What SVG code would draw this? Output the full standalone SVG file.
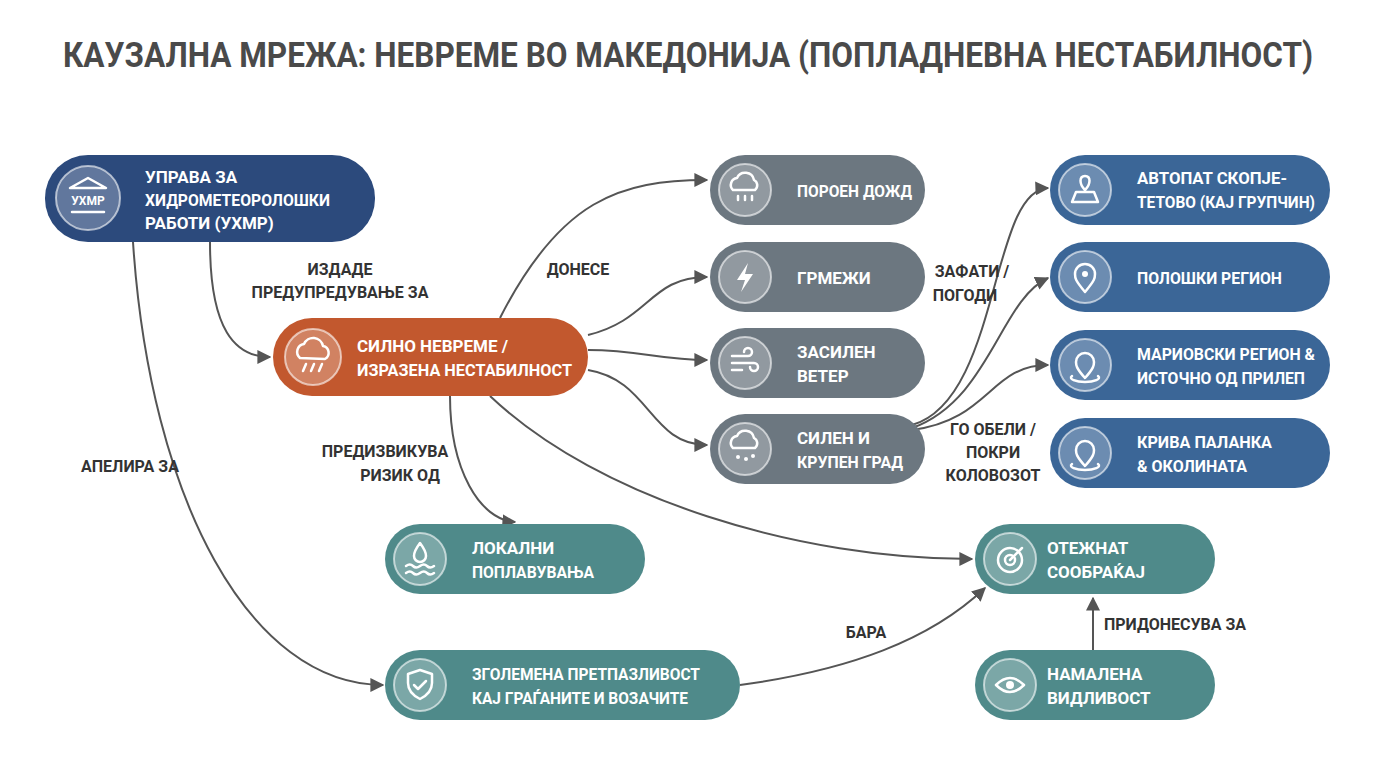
<svg xmlns="http://www.w3.org/2000/svg" width="1376" height="768" viewBox="0 0 1376 768">
<defs>
<marker id="ah" viewBox="0 0 10 10" refX="9" refY="5" markerWidth="7" markerHeight="7" orient="auto"><path d="M0,0 L10,5 L0,10 z" fill="#555"/></marker>
<style>
.t{font-family:Roboto,"Noto Sans",sans-serif;font-weight:700;fill:#fff;font-size:17px}
.l{font-family:Roboto,"Noto Sans",sans-serif;font-weight:700;fill:#333;font-size:16px;text-anchor:middle}
.c{fill:none;stroke:#555;stroke-width:2;marker-end:url(#ah)}
.ic{fill:rgba(255,255,255,0.25);stroke:rgba(255,255,255,0.6);stroke-width:2}
.ig{fill:none;stroke:#fff;stroke-width:2.5;stroke-linecap:round;stroke-linejoin:round}
.navy{fill:#2c4a7c}.or{fill:#c2582e}.gr{fill:#6c7780}.bl{fill:#3b6697}.te{fill:#4f8a8a}
</style>
</defs>
<rect width="1376" height="768" fill="#fff"/>
<text x="688" y="67" text-anchor="middle" font-family="Roboto,'Noto Sans',sans-serif" font-weight="700" font-size="35" fill="#4a4a4a" textLength="1250" lengthAdjust="spacingAndGlyphs">КАУЗАЛНА МРЕЖА: НЕВРЕМЕ ВО МАКЕДОНИЈА (ПОПЛАДНЕВНА НЕСТАБИЛНОСТ)</text>
<g id="connectors">
<path class="c" d="M210,242 C210,330 235,357 270,357"/>
<path class="c" d="M133,242 C150,500 250,685 383,685"/>
<path class="c" d="M500,318 C560,200 620,180 707,180"/>
<path class="c" d="M588,335 C650,320 650,277 707,277"/>
<path class="c" d="M588,350 C640,350 660,360 707,360"/>
<path class="c" d="M588,370 C650,380 650,445 707,445"/>
<path class="c" d="M490,396 C600,500 800,559 972,559"/>
<path class="c" d="M450,396 C450,470 480,520 515,522"/>
<path class="c" d="M912,425 C1000,400 990,190 1048,188"/>
<path class="c" d="M912,428 C990,400 1000,300 1048,278"/>
<path class="c" d="M912,430 C990,420 990,365 1048,365"/>
<path class="c" d="M740,685 C850,670 930,640 985,588"/>
<path class="c" d="M1093,650 L1093,598"/>
<text class="l" x="340" y="275">ИЗДАДЕ</text><text class="l" x="340" y="298">ПРЕДУПРЕДУВАЊЕ ЗА</text>
<text class="l" x="130" y="472">АПЕЛИРА ЗА</text>
<text class="l" x="578" y="275">ДОНЕСЕ</text>
<text class="l" x="385" y="457">ПРЕДИЗВИКУВА</text><text class="l" x="400" y="481">РИЗИК ОД</text>
<text class="l" x="972" y="277">ЗАФАТИ /</text><text class="l" x="965" y="301">ПОГОДИ</text>
<text class="l" x="993" y="435">ГО ОБЕЛИ /</text><text class="l" x="993" y="458">ПОКРИ</text><text class="l" x="993" y="481">КОЛОВОЗОТ</text>
<text class="l" x="866" y="638">БАРА</text>
<text class="l" x="1175" y="630">ПРИДОНЕСУВА ЗА</text>
</g>
<g id="uhmr"><rect class="navy" x="45" y="155" width="330" height="87" rx="43"/><circle class="ic" cx="88" cy="198" r="32"/><path class="ig" d="M70,188 L88,178 L106,188 Z M72,212 L104,212"/><text x="88" y="205" text-anchor="middle" font-family="Roboto,sans-serif" font-weight="700" font-size="12" fill="#fff">УХМР</text><text class="t" x="145" y="183">УПРАВА ЗА</text><text class="t" x="145" y="206" textLength="185" lengthAdjust="spacingAndGlyphs">ХИДРОМЕТЕОРОЛОШКИ</text><text class="t" x="145" y="229">РАБОТИ (УХМР)</text></g>
<g id="storm"><rect class="or" x="273" y="318" width="315" height="78" rx="39"/><circle class="ic" cx="313" cy="357" r="28"/><path class="ig" d="M300,358 a8,8 0 0 1 4,-14 a10,10 0 0 1 19,2 a7,7 0 0 1 2,13 Z M306,364 l-3,7 M314,364 l-3,7 M322,364 l-3,7"/><text class="t" x="357" y="352">СИЛНО НЕВРЕМЕ /</text><text class="t" x="357" y="376" textLength="215" lengthAdjust="spacingAndGlyphs">ИЗРАЗЕНА НЕСТАБИЛНОСТ</text></g>
<g id="rain"><rect class="gr" x="710" y="155" width="215" height="70" rx="35"/><circle class="ic" cx="745" cy="190" r="26"/><path class="ig" d="M733,190 a7,7 0 0 1 4,-12 a9,9 0 0 1 17,2 a6,6 0 0 1 1,10 Z M738,196 v4 M745,196 v4 M752,196 v4"/><text class="t" x="797" y="197" textLength="115" lengthAdjust="spacingAndGlyphs">ПОРОЕН ДОЖД</text></g>
<g id="thunder"><rect class="gr" x="710" y="242" width="215" height="70" rx="35"/><circle class="ic" cx="745" cy="277" r="26"/><path d="M748,263 L737,280 L745,280 L741,292 L753,274 L745,274 Z" fill="#fff"/><text class="t" x="797" y="284">ГРМЕЖИ</text></g>
<g id="wind"><rect class="gr" x="710" y="328" width="215" height="70" rx="35"/><circle class="ic" cx="745" cy="363" r="26"/><path class="ig" d="M732,356 h16 a4,4 0 1 0 -4,-4 M732,363 h22 a4,4 0 1 1 -4,4 M732,370 h10"/><text class="t" x="797" y="358">ЗАСИЛЕН</text><text class="t" x="797" y="382">ВЕТЕР</text></g>
<g id="hail"><rect class="gr" x="710" y="414" width="215" height="70" rx="35"/><circle class="ic" cx="745" cy="449" r="26"/><path class="ig" d="M733,448 a7,7 0 0 1 4,-12 a9,9 0 0 1 17,2 a6,6 0 0 1 1,10 Z"/><circle cx="738" cy="457" r="2" fill="#fff"/><circle cx="746" cy="459" r="2" fill="#fff"/><circle cx="753" cy="456" r="2" fill="#fff"/><text class="t" x="797" y="444">СИЛЕН И</text><text class="t" x="797" y="468" textLength="106" lengthAdjust="spacingAndGlyphs">КРУПЕН ГРАД</text></g>
<g id="highway"><rect class="bl" x="1050" y="155" width="280" height="70" rx="35"/><circle class="ic" cx="1085" cy="190" r="26"/><path class="ig" d="M1072,202 l4,-10 h18 l4,10 Z M1085,190 c-6,-6 -6,-14 0,-14 c6,0 6,8 0,14"/><text class="t" x="1137" y="184" textLength="150" lengthAdjust="spacingAndGlyphs">АВТОПАТ СКОПЈЕ-</text><text class="t" x="1137" y="208" textLength="178" lengthAdjust="spacingAndGlyphs">ТЕТОВО (КАЈ ГРУПЧИН)</text></g>
<g id="polog"><rect class="bl" x="1050" y="242" width="280" height="70" rx="35"/><circle class="ic" cx="1085" cy="277" r="26"/><path class="ig" d="M1085,292 c-10,-12 -10,-14 -10,-18 a10,10 0 0 1 20,0 c0,4 0,6 -10,18 Z"/><circle cx="1085" cy="274" r="3" fill="#fff"/><text class="t" x="1137" y="284" textLength="145" lengthAdjust="spacingAndGlyphs">ПОЛОШКИ РЕГИОН</text></g>
<g id="mariovo"><rect class="bl" x="1050" y="330" width="280" height="70" rx="35"/><circle class="ic" cx="1085" cy="365" r="26"/><path class="ig" d="M1085,378 c-9,-10 -9,-13 -9,-16 a9,9 0 0 1 18,0 c0,3 0,6 -9,16 Z M1072,376 c-4,3 4,6 13,6 c9,0 17,-3 13,-6"/><text class="t" x="1137" y="360" textLength="178" lengthAdjust="spacingAndGlyphs">МАРИОВСКИ РЕГИОН &amp;</text><text class="t" x="1137" y="384" textLength="168" lengthAdjust="spacingAndGlyphs">ИСТОЧНО ОД ПРИЛЕП</text></g>
<g id="kriva"><rect class="bl" x="1050" y="418" width="280" height="70" rx="35"/><circle class="ic" cx="1085" cy="453" r="26"/><path class="ig" d="M1085,466 c-9,-10 -9,-13 -9,-16 a9,9 0 0 1 18,0 c0,3 0,6 -9,16 Z M1072,464 c-4,3 4,6 13,6 c9,0 17,-3 13,-6"/><text class="t" x="1137" y="448" textLength="135" lengthAdjust="spacingAndGlyphs">КРИВА ПАЛАНКА</text><text class="t" x="1137" y="472" textLength="110" lengthAdjust="spacingAndGlyphs">&amp; ОКОЛИНАТА</text></g>
<g id="flood"><rect class="te" x="385" y="524" width="260" height="70" rx="35"/><circle class="ic" cx="420" cy="559" r="26"/><path class="ig" d="M420,543 c-6,8 -6,11 -6,13 a6,6 0 0 0 12,0 c0,-2 0,-5 -6,-13 Z M406,566 q4,-3 7,0 t7,0 t7,0 t7,0 M406,573 q4,-3 7,0 t7,0 t7,0 t7,0"/><text class="t" x="472" y="554">ЛОКАЛНИ</text><text class="t" x="472" y="578" textLength="122" lengthAdjust="spacingAndGlyphs">ПОПЛАВУВАЊА</text></g>
<g id="caution"><rect class="te" x="385" y="650" width="355" height="70" rx="35"/><circle class="ic" cx="420" cy="685" r="26"/><path class="ig" d="M420,670 l12,4 v9 c0,8 -6,13 -12,16 c-6,-3 -12,-8 -12,-16 v-9 Z M414,685 l4,4 l8,-8"/><text class="t" x="472" y="680" textLength="228" lengthAdjust="spacingAndGlyphs">ЗГОЛЕМЕНА ПРЕТПАЗЛИВОСТ</text><text class="t" x="472" y="704" textLength="216" lengthAdjust="spacingAndGlyphs">КАЈ ГРАЃАНИТЕ И ВОЗАЧИТЕ</text></g>
<g id="traffic"><rect class="te" x="975" y="524" width="240" height="70" rx="35"/><circle class="ic" cx="1010" cy="559" r="26"/><circle class="ig" cx="1010" cy="560" r="12"/><circle class="ig" cx="1010" cy="560" r="5"/><path class="ig" d="M1010,560 l12,-12"/><text class="t" x="1047" y="554">ОТЕЖНАТ</text><text class="t" x="1047" y="578">СООБРАЌАЈ</text></g>
<g id="visibility"><rect class="te" x="975" y="650" width="240" height="70" rx="35"/><circle class="ic" cx="1010" cy="685" r="26"/><path class="ig" d="M996,685 q14,-14 28,0 q-14,14 -28,0 Z"/><circle cx="1010" cy="685" r="4" fill="#fff"/><text class="t" x="1047" y="680">НАМАЛЕНА</text><text class="t" x="1047" y="704">ВИДЛИВОСТ</text></g>
</svg>
